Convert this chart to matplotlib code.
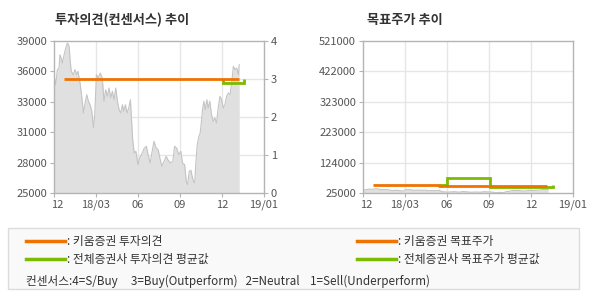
import matplotlib
matplotlib.use('Agg')
import numpy as np
from matplotlib import pyplot as plt
from matplotlib.patches import Rectangle
import matplotlib.transforms as mtransforms

plt.rcParams['font.family'] = ['Noto Sans CJK KR', 'DejaVu Sans']

# x axis: one unit per tick label interval
x_ticklabels = ['12', '18/03', '06', '09', '12', '19/01']

# daily close (traced)
price_pos = [0.00, 0.04, 0.08, 0.12, 0.14, 0.17, 0.20, 0.24, 0.28, 0.32, 0.36, 0.38, 0.41, 0.46,
             0.50, 0.54, 0.57, 0.62, 0.66, 0.70, 0.74, 0.78, 0.82, 0.86, 0.90, 0.94, 0.97, 1.01,
             1.05, 1.10, 1.15, 1.19, 1.23, 1.27, 1.31, 1.35, 1.39, 1.43, 1.47, 1.51, 1.55, 1.59,
             1.63, 1.66, 1.70, 1.74, 1.78, 1.82, 1.84, 1.87, 1.91, 1.95, 2.00, 2.04, 2.10, 2.15,
             2.20, 2.24, 2.29, 2.33, 2.38, 2.43, 2.48, 2.52, 2.57, 2.62, 2.67, 2.71, 2.77, 2.83,
             2.87, 2.92, 2.97, 3.02, 3.06, 3.11, 3.15, 3.18, 3.22, 3.26, 3.28, 3.32, 3.35, 3.38,
             3.41, 3.45, 3.48, 3.51, 3.54, 3.57, 3.60, 3.64, 3.67, 3.71, 3.75, 3.79, 3.83, 3.87,
             3.91, 3.95, 3.99, 4.03, 4.07, 4.11, 4.15, 4.19, 4.23, 4.27, 4.31, 4.35, 4.39, 4.41]
price = [35750, 34970, 36360, 36510, 37740, 37430, 36970, 37740, 38360, 38820, 38510, 37430, 36210, 35900,
         36360, 35900, 36210, 35130, 33910, 32370, 33290, 34050, 33450, 33130, 32520, 31010, 32210, 35900,
         35590, 36050, 35590, 33450, 34510, 33910, 34670, 33750, 34370, 33590, 34670, 33450, 32670, 32370,
         33130, 32520, 33130, 32370, 32830, 33590, 32210, 30070, 28680, 28840, 27610, 28230, 28680, 29140,
         29300, 28530, 27760, 28680, 29760, 29140, 28990, 28220, 27460, 27920, 28380, 28070, 27760, 27920,
         29300, 29140, 28530, 28840, 27760, 27610, 26080, 25770, 27000, 27100, 26690, 26080, 25920, 27920,
         29450, 30220, 30530, 31600, 32830, 33450, 32670, 33590, 32830, 33450, 32210, 31600, 31910, 31450,
         32830, 33910, 33590, 32830, 33130, 33910, 34210, 34050, 35130, 36670, 36360, 36510, 35900, 36820]

# investment opinion (4=S/Buy ... 1=Sell)
kiwoom_op_pos = [0.24, 4.41]
kiwoom_op = [3.0, 3.0]
avg_op_pos = [4.03, 4.03, 4.53, 4.53]
avg_op = [3.0, 2.89, 2.89, 3.0]

# target price
kiwoom_tp_pos = [0.23, 1.81, 1.81, 4.38]
kiwoom_tp = [51000, 51000, 48000, 48000]
avg_tp_pos = [1.81, 2.00, 2.00, 3.02, 3.02, 4.52, 4.52]
avg_tp = [51000, 51000, 75000, 75000, 45500, 45500, 50000]

left_ticks = [25000, 27800, 30600, 33400, 36200, 39000]
left_ticklabels = ['25000', '28000', '31000', '33000', '36000', '39000']
op_ticks = [0, 1, 2, 3, 4]
tp_ticks = [25000, 124000, 223000, 323000, 422000, 521000]

ORANGE = '#f07300'
GREEN = '#7cbb00'
FILL = '#e0e0e0'
EDGE = '#c4c4c4'
GRID = '#e6e6e6'
SPINE = '#b4b4b4'
TXT = '#555555'

fig = plt.figure(figsize=(5.9, 3.0), dpi=100)


def style_axes(ax):
    for s in ax.spines.values():
        s.set_color(SPINE)
        s.set_linewidth(1.0)
    ax.tick_params(colors=SPINE, labelcolor=TXT, labelsize=8, length=3, width=0.8, pad=2)
    ax.set_xlim(0, 5)
    ax.set_xticks(range(6))
    ax.set_xticklabels(x_ticklabels)
    lab0 = ax.get_xticklabels()[0]
    lab0.set_transform(lab0.get_transform() + mtransforms.ScaledTranslation(3 / 100, 0, fig.dpi_scale_trans))
    for x in range(1, 5):
        ax.axvline(x, color=GRID, lw=1.0, zorder=0)


# left: opinion
ax1 = fig.add_axes([54 / 590, 1 - 193 / 300, 210 / 590, 152 / 300])
style_axes(ax1)
ax1.fill_between(price_pos, price, 25000, color=FILL, lw=0, zorder=1)
ax1.plot(price_pos, price, color=EDGE, lw=0.8, zorder=2)
ax1.set_ylim(25000, 39000)
ax1.set_yticks(left_ticks)
ax1.set_yticklabels(left_ticklabels)

ax1r = ax1.twinx()
ax1r.set_ylim(0, 4)
ax1r.set_yticks(op_ticks)
ax1r.tick_params(colors=SPINE, labelcolor=TXT, labelsize=8, length=3, width=0.8, pad=2)
for s in ax1r.spines.values():
    s.set_visible(False)
for y in op_ticks[1:-1]:
    ax1.axhline(25000 + y * 3500, color=GRID, lw=1.0, zorder=0)
ax1r.plot(avg_op_pos, avg_op, color=GREEN, lw=2.0, solid_capstyle='butt', solid_joinstyle='miter')
ax1r.plot(kiwoom_op_pos, kiwoom_op, color=ORANGE, lw=2.0, solid_capstyle='butt')
fig.text(55 / 590, 1 - 20 / 300, '투자의견(컨센서스) 추이', fontsize=9.5, fontweight='bold',
         color='#333333', va='center')

# right: target price
ax2 = fig.add_axes([363 / 590, 1 - 193 / 300, 210 / 590, 152 / 300])
style_axes(ax2)
ax2.fill_between(price_pos, price, 25000, color=FILL, lw=0, zorder=1)
ax2.plot(price_pos, price, color=EDGE, lw=0.8, zorder=2)
ax2.set_ylim(25000, 521000)
ax2.set_yticks(tp_ticks)
ax2.set_yticklabels([str(t) for t in tp_ticks])
for y in tp_ticks[1:-1]:
    ax2.axhline(y, color=GRID, lw=1.0, zorder=0)
ax2.plot(avg_tp_pos, avg_tp, color=GREEN, lw=2.0, solid_capstyle='butt', solid_joinstyle='miter', zorder=3)
ax2.plot(kiwoom_tp_pos, kiwoom_tp, color=ORANGE, lw=2.0, solid_capstyle='butt', zorder=4)
fig.text(367 / 590, 1 - 20 / 300, '목표주가 추이', fontsize=9.5, fontweight='bold',
         color='#333333', va='center')

# legend box
W, H = 590, 300
fig.patches.append(Rectangle((8 / W, 1 - 289 / H), 571 / W, 61 / H, transform=fig.transFigure,
                             facecolor='#f9f9f9', edgecolor='#dcdcdc', lw=1.0))
legend_rows = [
    (26, 241, ORANGE, ': 키움증권 투자의견'),
    (26, 259, GREEN, ': 전체증권사 투자의견 평균값'),
    (357, 241, ORANGE, ': 키움증권 목표주가'),
    (357, 259, GREEN, ': 전체증권사 목표주가 평균값'),
]
for x, y, c, t in legend_rows:
    fig.add_artist(plt.Line2D([x / W, (x + 39) / W], [1 - y / H, 1 - y / H], color=c, lw=2.5,
                              transform=fig.transFigure))
    fig.text((x + 41) / W, 1 - y / H, t, fontsize=8.5, color='#333333', va='center')
fig.text(26 / W, 1 - 281 / H,
         '컨센서스:4=S/Buy     3=Buy(Outperform)   2=Neutral    1=Sell(Underperform)',
         fontsize=8.4, color='#333333', va='center')

fig.savefig('out.png', dpi=100)
